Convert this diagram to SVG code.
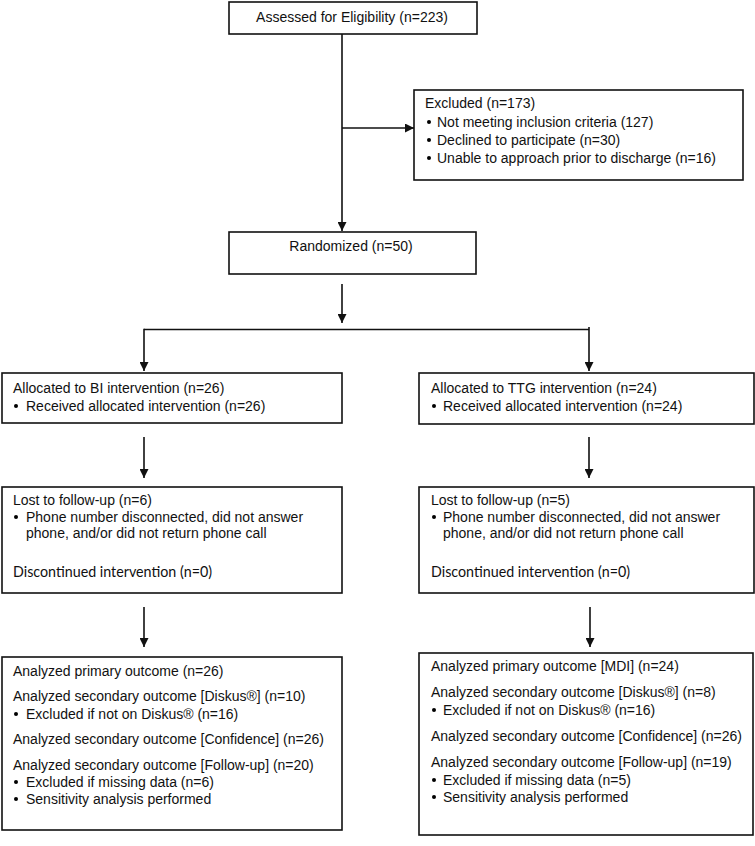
<svg xmlns="http://www.w3.org/2000/svg" width="755" height="846" viewBox="0 0 755 846">
<style>
.box{fill:#fff;stroke:#111;stroke-width:1.6}
.t{font-family:"Liberation Sans",Arial,sans-serif;font-size:14px;fill:#111}
.c{font-family:Lato,"Liberation Sans",sans-serif;font-size:15px;fill:#111}
.ln{stroke:#111;stroke-width:1.6;fill:none}
</style>
<defs>
<marker id="ah" viewBox="0 0 10 10" refX="10" refY="5" markerUnits="userSpaceOnUse" markerWidth="10" markerHeight="9" orient="auto">
<path d="M0,0 L10,5 L0,10 z" fill="#111"/>
</marker>
</defs>
<rect width="755" height="846" fill="#fff"/>
<g id="connectors">
<line class="ln" x1="342" y1="34" x2="342" y2="231" marker-end="url(#ah)"/>
<line class="ln" x1="342" y1="128" x2="414" y2="128" marker-end="url(#ah)"/>
<line class="ln" x1="342" y1="284" x2="342" y2="323" marker-end="url(#ah)"/>
<line class="ln" x1="144" y1="329.5" x2="589" y2="329.5"/>
<line class="ln" x1="144" y1="328.7" x2="144" y2="371" marker-end="url(#ah)"/>
<line class="ln" x1="589" y1="327" x2="589" y2="371" marker-end="url(#ah)"/>
<line class="ln" x1="144" y1="437" x2="144" y2="478" marker-end="url(#ah)"/>
<line class="ln" x1="589" y1="437" x2="589" y2="478" marker-end="url(#ah)"/>
<line class="ln" x1="144" y1="607" x2="144" y2="647" marker-end="url(#ah)"/>
<line class="ln" x1="590" y1="607" x2="590" y2="647" marker-end="url(#ah)"/>
</g>
<g id="assessed">
<rect class="box" x="229" y="2" width="248" height="32"/>
<text class="t" x="352" y="22" text-anchor="middle">Assessed for Eligibility (n=223)</text>
</g>
<g id="excluded">
<rect class="box" x="414" y="90" width="329" height="90"/>
<text class="t" x="425" y="108">Excluded (n=173)</text>
<circle cx="429" cy="122" r="2"/>
<text class="t" x="437" y="127">Not meeting inclusion criteria (127)</text>
<circle cx="429" cy="140" r="2"/>
<text class="t" x="437" y="145">Declined to participate (n=30)</text>
<circle cx="429" cy="158" r="2"/>
<text class="t" x="437" y="163">Unable to approach prior to discharge (n=16)</text>
</g>
<g id="randomized">
<rect class="box" x="229" y="232" width="247" height="42"/>
<text class="t" x="351" y="251" text-anchor="middle">Randomized (n=50)</text>
</g>
<g id="alloc-bi">
<rect class="box" x="2" y="373" width="340" height="50"/>
<text class="t" x="13" y="393">Allocated to BI intervention (n=26)</text>
<circle cx="16" cy="406" r="2"/>
<text class="t" x="26" y="411">Received allocated intervention (n=26)</text>
</g>
<g id="alloc-ttg">
<rect class="box" x="419" y="373" width="335" height="51"/>
<text class="t" x="431" y="393">Allocated to TTG intervention (n=24)</text>
<circle cx="434" cy="406" r="2"/>
<text class="t" x="443" y="411">Received allocated intervention (n=24)</text>
</g>
<g id="lost-bi">
<rect class="box" x="2" y="487" width="340" height="106"/>
<text class="t" x="13" y="505">Lost to follow-up (n=6)</text>
<circle cx="16" cy="517" r="2"/>
<text class="t" x="26" y="522">Phone number disconnected, did not answer</text>
<text class="t" x="26" y="538">phone, and/or did not return phone call</text>
<text class="c" x="13" y="577" textLength="199" lengthAdjust="spacingAndGlyphs">Discontinued intervention (n=0)</text>
</g>
<g id="lost-ttg">
<rect class="box" x="419" y="487" width="335" height="106"/>
<text class="t" x="431" y="505">Lost to follow-up (n=5)</text>
<circle cx="434" cy="517" r="2"/>
<text class="t" x="443" y="522">Phone number disconnected, did not answer</text>
<text class="t" x="443" y="538">phone, and/or did not return phone call</text>
<text class="c" x="431" y="577" textLength="199" lengthAdjust="spacingAndGlyphs">Discontinued intervention (n=0)</text>
</g>
<g id="analyzed-bi">
<rect class="box" x="2" y="657" width="340" height="173"/>
<text class="t" x="13" y="676">Analyzed primary outcome (n=26)</text>
<text class="t" x="13" y="701">Analyzed secondary outcome [Diskus®] (n=10)</text>
<circle cx="16" cy="714" r="2"/>
<text class="t" x="26" y="719">Excluded if not on Diskus® (n=16)</text>
<text class="t" x="13" y="744">Analyzed secondary outcome [Confidence] (n=26)</text>
<text class="t" x="13" y="770">Analyzed secondary outcome [Follow-up] (n=20)</text>
<circle cx="16" cy="782" r="2"/>
<text class="t" x="26" y="787">Excluded if missing data (n=6)</text>
<circle cx="16" cy="799" r="2"/>
<text class="t" x="26" y="804">Sensitivity analysis performed</text>
</g>
<g id="analyzed-ttg">
<rect class="box" x="419" y="653" width="334" height="182"/>
<text class="t" x="431" y="671">Analyzed primary outcome [MDI] (n=24)</text>
<text class="t" x="431" y="697">Analyzed secondary outcome [Diskus®] (n=8)</text>
<circle cx="434" cy="710" r="2"/>
<text class="t" x="443" y="715">Excluded if not on Diskus® (n=16)</text>
<text class="t" x="431" y="741">Analyzed secondary outcome [Confidence] (n=26)</text>
<text class="t" x="431" y="767">Analyzed secondary outcome [Follow-up] (n=19)</text>
<circle cx="434" cy="780" r="2"/>
<text class="t" x="443" y="785">Excluded if missing data (n=5)</text>
<circle cx="434" cy="797" r="2"/>
<text class="t" x="443" y="802">Sensitivity analysis performed</text>
</g>
</svg>
